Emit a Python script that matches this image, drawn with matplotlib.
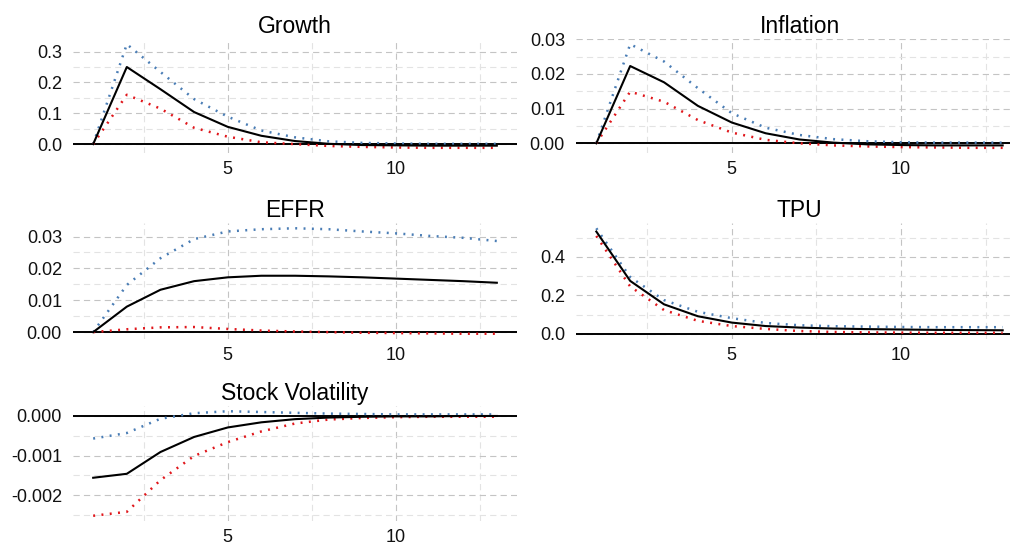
import matplotlib
matplotlib.use("Agg")
import matplotlib.pyplot as plt
import numpy as np
from matplotlib.ticker import FormatStrFormatter

plt.rcParams['font.family'] = ['Liberation Sans', 'DejaVu Sans']
plt.rcParams['axes.unicode_minus'] = False
plt.rcParams['lines.scale_dashes'] = False

# Impulse responses: point estimate and upper / lower bands, horizons 1..13
horizon = np.arange(1, 14)

growth = [0, 0.250, 0.178, 0.104, 0.056, 0.027, 0.010, 0.001, -0.003, -0.004, -0.005, -0.005, -0.005]
growth_hi = [0, 0.324, 0.234, 0.146, 0.089, 0.044, 0.022, 0.009, 0.004, 0.002, 0.001, 0.001, 0.001]
growth_lo = [0, 0.160, 0.115, 0.053, 0.024, 0.006, 0.000, -0.006, -0.009, -0.011, -0.012, -0.012, -0.012]

inflation = [0, 0.0223, 0.0176, 0.0108, 0.0060, 0.0029, 0.0011, 0.0002, -0.0003, -0.0005, -0.0006, -0.0006, -0.0006]
inflation_hi = [0, 0.0286, 0.0236, 0.0159, 0.0087, 0.0045, 0.0024, 0.0012, 0.0006, 0.0003, 0.0002, 0.0002, 0.0002]
inflation_lo = [0, 0.0149, 0.0120, 0.0067, 0.0031, 0.0010, 0.0000, -0.0006, -0.0009, -0.0011, -0.0012, -0.0013, -0.0013]

effr = [0, 0.0080, 0.0133, 0.0160, 0.0172, 0.0177, 0.0177, 0.0175, 0.0172, 0.0168, 0.0164, 0.0160, 0.0155]
effr_hi = [0, 0.0148, 0.0232, 0.0292, 0.0316, 0.0323, 0.0326, 0.0323, 0.0316, 0.0310, 0.0302, 0.0296, 0.0286]
effr_lo = [0, 0.0009, 0.0015, 0.0016, 0.0010, 0.0005, 0.0002, 0.0000, -0.0002, -0.0003, -0.0004, -0.0005, -0.0005]

tpu = [0.532, 0.275, 0.153, 0.091, 0.058, 0.040, 0.032, 0.027, 0.024, 0.022, 0.020, 0.019, 0.018]
tpu_hi = [0.549, 0.295, 0.175, 0.114, 0.081, 0.056, 0.044, 0.039, 0.037, 0.035, 0.034, 0.034, 0.034]
tpu_lo = [0.509, 0.246, 0.123, 0.067, 0.040, 0.025, 0.014, 0.009, 0.007, 0.006, 0.005, 0.005, 0.005]

stockvol = [-0.00156, -0.00146, -0.00091, -0.00053, -0.00029, -0.00016, -0.00008, -0.00004, -0.00002, -0.00001, -0.00001, 0.0, 0.0]
stockvol_hi = [-0.00057, -0.00043, -0.00007, 0.00007, 0.00012, 0.00010, 0.00008, 0.00006, 0.00005, 0.00004, 0.00004, 0.00004, 0.00004]
stockvol_lo = [-0.00252, -0.00242, -0.00162, -0.00101, -0.00066, -0.00039, -0.00019, -0.00009, -0.00005, -0.00003, -0.00002, -0.00002, -0.00002]

panels = [
    ("Growth", growth, growth_hi, growth_lo, [0, 0.1, 0.2, 0.3], [0.05, 0.15, 0.25], "%.1f"),
    ("Inflation", inflation, inflation_hi, inflation_lo, [0, 0.01, 0.02, 0.03], [0.005, 0.015, 0.025], "%.2f"),
    ("EFFR", effr, effr_hi, effr_lo, [0, 0.01, 0.02, 0.03], [0.005, 0.015, 0.025], "%.2f"),
    ("TPU", tpu, tpu_hi, tpu_lo, [0, 0.2, 0.4], [0.1, 0.3, 0.5], "%.1f"),
    ("Stock Volatility", stockvol, stockvol_hi, stockvol_lo, [-0.002, -0.001, 0], [-0.0025, -0.0015, -0.0005], "%.3f"),
]

# axes boxes in pixels (left, top, right, bottom) on a 1010x548 canvas
W, H = 1010, 548
boxes = [
    (73, 39, 517, 153),
    (576, 39, 1023, 153),
    (73, 223, 517, 339),
    (576, 223, 1023, 339),
    (73, 406, 517, 521),
]

fig = plt.figure(figsize=(W / 100, H / 100), dpi=100)

for (title, est, hi, lo, yt, ymt, fmt), (l, t, r, b) in zip(panels, boxes):
    ax = fig.add_axes([l / W, 1 - b / H, (r - l) / W, (b - t) / H])
    for s in ax.spines.values():
        s.set_visible(False)

    ax.axhline(0, color='black', lw=1.4, zorder=2)
    ax.plot(horizon, hi, color='#4a7db5', lw=1.8, linestyle=(0, (1.4, 4.6)), zorder=3)
    ax.plot(horizon, lo, color='#e0161b', lw=1.8, linestyle=(0, (1.4, 4.6)), zorder=3)
    ax.plot(horizon, est, color='black', lw=1.5, zorder=4)

    # ggplot-like 5% expansion
    lo_all = min(min(lo), min(est), min(hi), 0)
    hi_all = max(max(lo), max(est), max(hi), 0)
    pad = 0.05 * (hi_all - lo_all)
    ax.set_ylim(lo_all - pad, hi_all + pad)
    ax.set_xlim(0.4, 13.6)

    ax.set_xticks([5, 10])
    ax.set_xticks([2.5, 7.5, 12.5], minor=True)
    ax.set_yticks(yt)
    ax.set_yticks(ymt, minor=True)
    ax.yaxis.set_major_formatter(FormatStrFormatter(fmt))
    ax.tick_params(which='both', length=0, labelsize=13, labelcolor='#111111')
    ax.tick_params(axis='y', pad=8)
    ax.tick_params(axis='x', pad=6)

    ax.grid(which='major', color='#c4c4c4', lw=0.8, linestyle=(0, (4.5, 3)))
    ax.grid(which='minor', color='#e3e3e3', lw=0.8, linestyle=(0, (4.5, 3)))
    ax.set_axisbelow(True)

    ax.set_title(title, fontsize=16.5, pad=4.5)

fig.savefig("out.png", dpi=100)
